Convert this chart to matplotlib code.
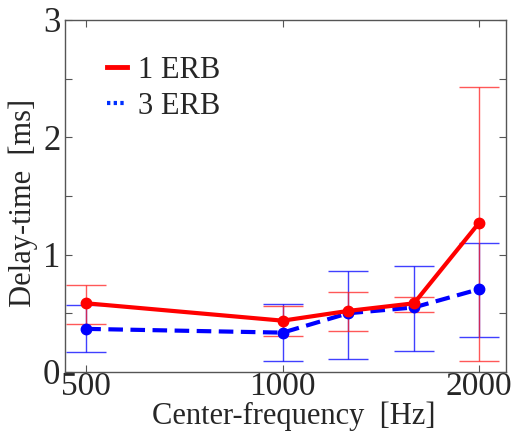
import matplotlib.pyplot as plt
from matplotlib.ticker import FixedLocator, NullFormatter, NullLocator

plt.rcParams['font.family'] = ['Liberation Serif', 'DejaVu Serif']

freqs = [500, 1000, 1260, 1590, 2000]

# 1 ERB
erb1_mean = [0.585, 0.437, 0.52, 0.585, 1.27]
erb1_low = [0.41, 0.307, 0.347, 0.509, 0.091]
erb1_high = [0.742, 0.563, 0.682, 0.642, 2.43]

# 3 ERB
erb3_mean = [0.367, 0.335, 0.50, 0.55, 0.705]
erb3_low = [0.168, 0.091, 0.113, 0.182, 0.296]
erb3_high = [0.571, 0.58, 0.864, 0.906, 1.097]

xticks = [500, 1000, 2000]
xticklabels = ['500', '1000', '2000']

txt = '#262626'

fig = plt.figure(figsize=(5.14, 4.32), dpi=100)
ax = fig.add_axes([0.1255, 0.139, 0.859, 0.815])

# error bars first, lines on top
err3 = [[m - l for m, l in zip(erb3_mean, erb3_low)], [h - m for m, h in zip(erb3_mean, erb3_high)]]
err1 = [[m - l for m, l in zip(erb1_mean, erb1_low)], [h - m for m, h in zip(erb1_mean, erb1_high)]]
ax.errorbar(freqs, erb3_mean, yerr=err3, fmt='none', ecolor='#1010ff', elinewidth=1,
            capsize=14.5, capthick=1, alpha=0.8)
ax.errorbar(freqs, erb1_mean, yerr=err1, fmt='none', ecolor='#ff2020', elinewidth=1,
            capsize=14.5, capthick=1, alpha=0.75)

ax.plot(freqs, erb3_mean, color='#0000ff', lw=3, dashes=(3.5, 1.8),
        marker='o', ms=7.5, mec='#0000ff')
ax.plot(freqs, erb1_mean, color='#ff0000', lw=3, marker='o', ms=7.5, mec='#ff0000')

# legend handles (no markers, blue shown dotted)
h1, = ax.plot([], [], color='#ff0000', lw=3.5, label='1 ERB')
h3, = ax.plot([], [], color='#0030ff', lw=3, ls=(0, (0.8, 0.8)), label='3 ERB')
ax.legend(handles=[h1, h3], loc='upper left', bbox_to_anchor=(0.035, 0.975),
          frameon=False, fontsize=22, handlelength=0.65, handletextpad=0.35,
          labelspacing=0.22, labelcolor=txt)

ax.set_xscale('log')
ax.set_xlim(463, 2200)
ax.set_ylim(0, 3)
ax.xaxis.set_major_locator(FixedLocator(xticks))
ax.xaxis.set_minor_locator(NullLocator())
ax.set_xticklabels(xticklabels)
ax.xaxis.set_minor_formatter(NullFormatter())
ax.set_yticks([0, 0.5, 1, 1.5, 2, 2.5, 3])
ax.set_yticklabels(['0', '', '1', '', '2', '', '3'])

ax.tick_params(direction='in', top=True, right=True, length=5, width=0.8,
               colors='#555555', labelcolor=txt, labelsize=25, pad=3)
ax.tick_params(axis='x', labelsize=24, pad=0)

for s in ax.spines.values():
    s.set_color('#555555')
    s.set_linewidth(1)

ax.set_xlabel('Center-frequency  [Hz]', fontsize=22, color=txt)
ax.xaxis.set_label_coords(0.52, -0.085)
ax.set_ylabel('Delay-time  [ms]', fontsize=22, color=txt)
ax.yaxis.set_label_coords(-0.06, 0.48)

fig.savefig('out.png', dpi=100)
